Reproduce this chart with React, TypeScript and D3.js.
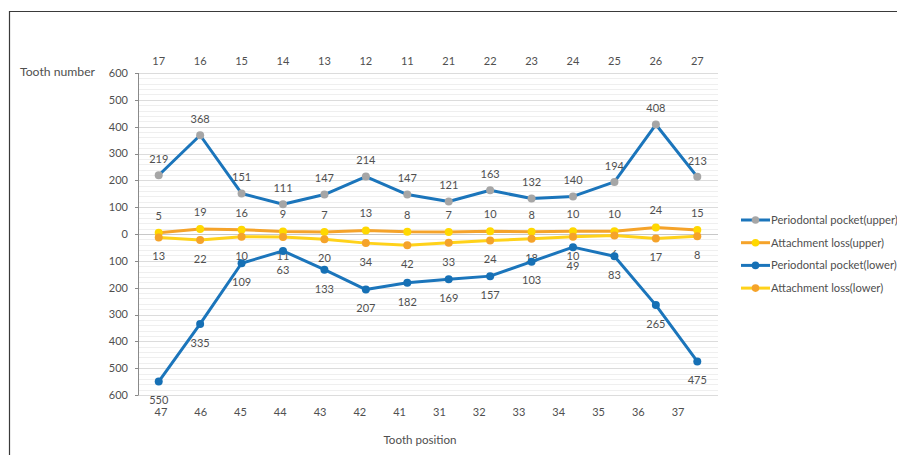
import React, { useEffect, useRef } from "react";
import * as d3 from "d3";

const upperTeeth = ["17", "16", "15", "14", "13", "12", "11", "21", "22", "23", "24", "25", "26", "27"];
const lowerTeeth = ["47", "46", "45", "44", "43", "42", "41", "31", "32", "33", "34", "35", "36", "37"];
const pocketUpper = [219, 368, 151, 111, 147, 214, 147, 121, 163, 132, 140, 194, 408, 213];
const attachUpper = [5, 19, 16, 9, 7, 13, 8, 7, 10, 8, 10, 10, 24, 15];
const pocketLower = [550, 335, 109, 63, 133, 207, 182, 169, 157, 103, 49, 83, 265, 475];
const attachLower = [13, 22, 10, 11, 20, 34, 42, 33, 24, 18, 10, 6, 17, 8];
const yTicks = [600, 500, 400, 300, 200, 100, 0, -100, -200, -300, -400, -500, -600];
const legendNames = [
  "Periodontal pocket(upper)",
  "Attachment loss(upper)",
  "Periodontal pocket(lower)",
  "Attachment loss(lower)",
];

const FONT = "Lato, 'Open Sans', sans-serif";
const TEXT = "#4f4f4f";

export default function App() {
  const ref = useRef<SVGSVGElement | null>(null);

  useEffect(() => {
    document.body.style.margin = "0";
    const svg = d3.select(ref.current);
    svg.selectAll("*").remove();

    const W = 897, H = 455;
    const left = 138, right = 718, top = 73, bottom = 395;

    const x = d3.scaleBand<number>().domain(d3.range(14)).range([left, right]);
    const cx = (i: number) => (x(i) as number) + x.bandwidth() / 2;
    const xb = d3.scaleBand<number>().domain(d3.range(14)).range([141, 698]);
    const cxb = (i: number) => (xb(i) as number) + xb.bandwidth() / 2;
    const y = d3.scaleLinear().domain([-600, 600]).range([bottom, top]);

    svg.append("rect").attr("width", W).attr("height", H).attr("fill", "#fff");

    // frame
    svg.append("path").attr("d", `M9.5,${H} V11.5 H${W}`)
      .attr("fill", "none").attr("stroke", "#3a3a3a").attr("stroke-width", 1.2);

    // minor gridlines
    const minor = d3.range(-600, 601, 20).filter((v) => v % 100 !== 0);
    svg.append("g").selectAll("line").data(minor).join("line")
      .attr("x1", left).attr("x2", right)
      .attr("y1", (d) => Math.round(y(d)) + 0.5).attr("y2", (d) => Math.round(y(d)) + 0.5)
      .attr("stroke", "#efefef").attr("stroke-width", 1);
    // major gridlines
    svg.append("g").selectAll("line").data(yTicks).join("line")
      .attr("x1", left).attr("x2", right)
      .attr("y1", (d) => Math.round(y(d)) + 0.5).attr("y2", (d) => Math.round(y(d)) + 0.5)
      .attr("stroke", (d) => (d === 0 ? "#c8c8c8" : "#dcdcdc")).attr("stroke-width", 1);

    // y axis
    svg.append("line").attr("x1", left + 0.5).attr("x2", left + 0.5)
      .attr("y1", top).attr("y2", bottom + 0.5).attr("stroke", "#8a8a8a");
    svg.append("g").selectAll("line").data(yTicks).join("line")
      .attr("x1", left - 3).attr("x2", left)
      .attr("y1", (d) => Math.round(y(d)) + 0.5).attr("y2", (d) => Math.round(y(d)) + 0.5)
      .attr("stroke", "#8a8a8a");
    svg.append("g").selectAll("text").data(yTicks).join("text")
      .attr("x", 128).attr("y", (d) => y(d)).attr("dy", "0.35em")
      .attr("text-anchor", "end").attr("font-family", FONT).attr("font-size", 11)
      .attr("fill", TEXT).text((d) => String(Math.abs(d)));

    // top category labels
    svg.append("g").selectAll("text").data(upperTeeth).join("text")
      .attr("x", (_, i) => cx(i)).attr("y", 61).attr("dy", "0.35em")
      .attr("text-anchor", "middle").attr("font-family", FONT).attr("font-size", 11)
      .attr("fill", TEXT).text((d) => d);
    // bottom category labels
    svg.append("g").selectAll("text").data(lowerTeeth).join("text")
      .attr("x", (_, i) => cxb(i)).attr("y", 412).attr("dy", "0.35em")
      .attr("text-anchor", "middle").attr("font-family", FONT).attr("font-size", 11)
      .attr("fill", TEXT).text((d) => d);

    svg.append("text").attr("x", 20).attr("y", 72).attr("dy", "0.35em")
      .attr("font-family", FONT).attr("font-size", 12.2).attr("fill", TEXT).text("Tooth number");
    svg.append("text").attr("x", 420).attr("y", 440).attr("dy", "0.35em")
      .attr("text-anchor", "middle")
      .attr("font-family", FONT).attr("font-size", 11.6).attr("fill", TEXT).text("Tooth position");

    const series = [
      { vals: attachUpper, sign: 1, line: "#f5a32a", marker: "#ffd800", label: -17 },
      { vals: attachLower, sign: -1, line: "#ffd21a", marker: "#f5a32a", label: 19 },
      { vals: pocketUpper, sign: 1, line: "#1b75bb", marker: "#a6a6a6", label: -16 },
      { vals: pocketLower, sign: -1, line: "#1b75bb", marker: "#1670b5", label: 19 },
    ];

    const lineGen = d3.line<number>().x((_, i) => cx(i));

    series.forEach((s) => {
      const g = svg.append("g");
      // labels first so later markers sit on top
      g.selectAll("text").data(s.vals).join("text")
        .attr("x", (_, i) => cx(i)).attr("y", (d) => y(s.sign * d) + s.label).attr("dy", "0.35em")
        .attr("text-anchor", "middle").attr("font-family", FONT).attr("font-size", 11)
        .attr("fill", TEXT).text((d) => String(d));
      g.append("path").datum(s.vals)
        .attr("d", lineGen.y((d) => y(s.sign * d)))
        .attr("fill", "none").attr("stroke", s.line).attr("stroke-width", 3)
        .attr("stroke-linejoin", "round");
      g.selectAll("circle").data(s.vals).join("circle")
        .attr("cx", (_, i) => cx(i)).attr("cy", (d) => y(s.sign * d)).attr("r", 4)
        .attr("fill", s.marker);
    });

    // legend
    const legendOrder = [series[2], series[0], series[3], series[1]];
    const lg = svg.append("g");
    legendNames.forEach((name, i) => {
      const ly = 220 + i * 22.7;
      const s = legendOrder[i];
      lg.append("line").attr("x1", 741).attr("x2", 770).attr("y1", ly).attr("y2", ly)
        .attr("stroke", s.line).attr("stroke-width", 3);
      lg.append("circle").attr("cx", 755.5).attr("cy", ly).attr("r", 3.8).attr("fill", s.marker);
      lg.append("text").attr("x", 771).attr("y", ly).attr("dy", "0.35em")
        .attr("font-family", FONT).attr("font-size", 11.2).attr("fill", TEXT).text(name);
    });
  }, []);

  return (
    <svg ref={ref} width={897} height={455}
      style={{ position: "absolute", left: 0, top: 0, display: "block" }} />
  );
}
